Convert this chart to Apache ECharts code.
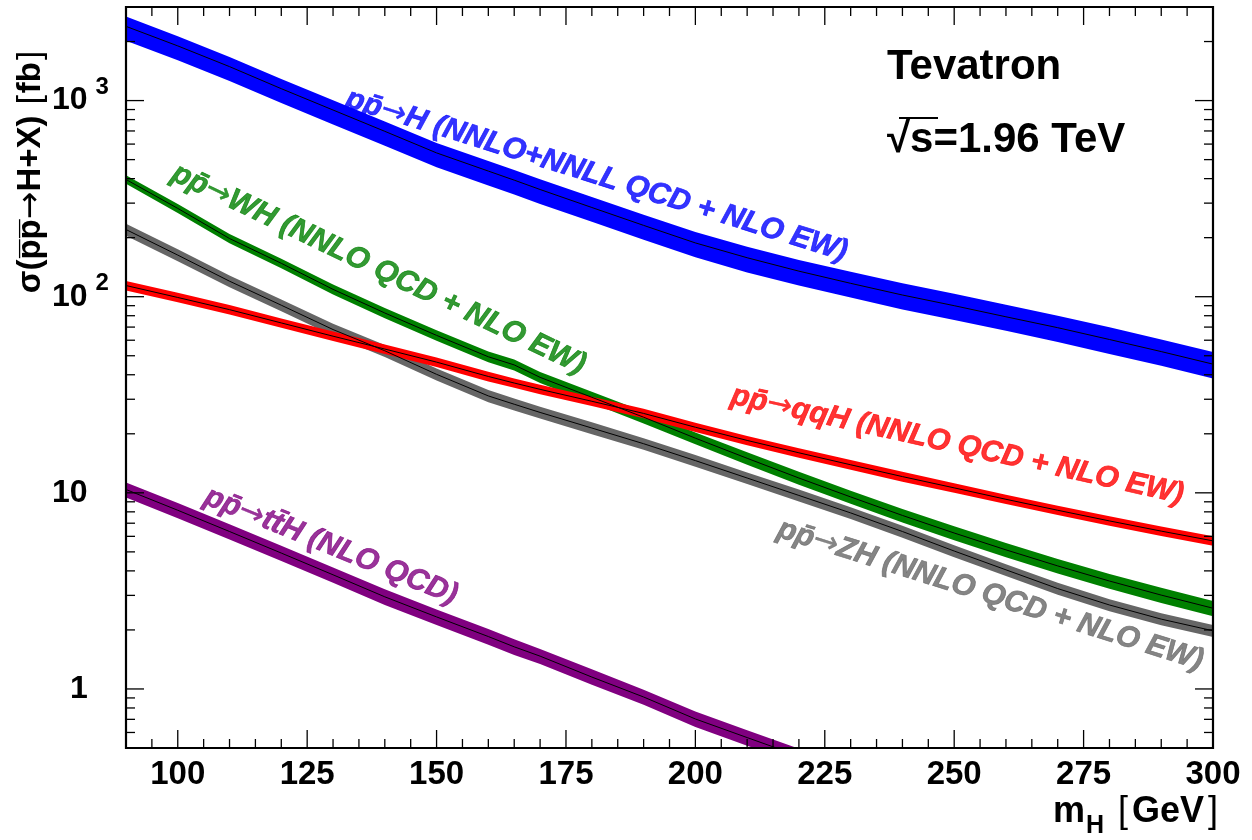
<!DOCTYPE html>
<html>
<head>
<meta charset="utf-8">
<script src="https://cdn.jsdelivr.net/npm/echarts@6/dist/echarts.min.js"></script>
<style>
html,body{margin:0;padding:0;background:#fff;}
#chart{width:1252px;height:840px;}
</style>
</head>
<body>
<div id="chart"></div>
<script>
// ---------------- data ----------------
const massPoints = [90,100,110,120,130,140,150,160,165,170,180,190,200,210,220,230,240,250,260,270,280,290,300];

const ggH     = [2390,1900,1490,1150,895,697,541,437,393,352,285,231,188,158,135,117,102,90,79,69.5,60.5,52.5,45.3];
const ggHUp   = [2680,2130,1670,1290,1005,782,608,492,443,397,322,262,214,180,154,134,117,103.5,91,80,69.8,60.5,52.3];
const ggHDown = [2020,1605,1260,972,756,589,457,369,332,297,241,195,159,133,114,99,86,76,67,58.7,51.1,44.4,38.3];

const wh     = [396,282,198,148,109,82.6,63.5,49.4,44.9,38.8,30.7,24.3,19.0,15.0,11.9,9.53,7.67,6.24,5.12,4.24,3.55,3.01,2.58];
const whUp   = [415.8,296.7,208.7,156.3,115.3,87.6,67.4,52.5,47.8,41.3,32.8,26.0,20.3,16.1,12.8,10.26,8.28,6.75,5.55,4.60,3.86,3.28,2.81];
const whDown = [376.2,267.3,187.3,139.7,102.7,77.6,59.6,46.3,42.0,36.3,28.6,22.6,17.7,13.9,11.0,8.80,7.06,5.73,4.70,3.88,3.24,2.74,2.35];

const zh     = [220,163,120,90.5,68.0,53.0,40.2,31.2,28.3,25.7,21.4,17.8,14.6,11.9,9.7,7.9,6.35,5.05,4.05,3.25,2.68,2.27,1.98];
const zhUp   = [235.4,174.4,128.4,96.8,72.8,56.7,43.0,33.4,30.3,27.5,22.9,19.0,15.6,12.7,10.4,8.45,6.79,5.40,4.33,3.48,2.87,2.43,2.12];
const zhDown = [204.6,151.6,111.6,84.2,63.2,49.3,37.4,29.0,26.3,23.9,19.9,16.6,13.6,11.1,9.02,7.35,5.91,4.70,3.77,3.02,2.49,2.11,1.84];

const qqH     = [114,99.1,85.9,73.5,62.9,54.1,46.4,39.2,36.3,33.7,29.3,25.4,21.6,18.5,16.0,13.9,12.1,10.6,9.27,8.15,7.19,6.38,5.69];
const qqHUp   = [120.3,104.6,90.6,77.5,66.4,57.1,49.0,41.4,38.3,35.6,30.9,26.8,22.8,19.5,16.9,14.7,12.8,11.2,9.78,8.60,7.59,6.73,6.00];
const qqHDown = [107.7,93.6,81.2,69.5,59.4,51.1,43.8,37.0,34.3,31.8,27.7,24.0,20.4,17.5,15.1,13.1,11.4,10.0,8.76,7.70,6.79,6.03,5.38];

const ttHMass = [90,100,110,120,130,140,150,160,165,170,180,190,200,210,220,230];
const ttH     = [10.4,8.15,6.35,4.93,3.82,2.95,2.33,1.85,1.64,1.47,1.15,0.91,0.703,0.565,0.455,0.37];
const ttHUp   = [11.3,8.88,6.92,5.37,4.16,3.22,2.54,2.02,1.79,1.60,1.26,0.99,0.767,0.616,0.496,0.403];
const ttHDown = [9.46,7.42,5.78,4.49,3.48,2.68,2.12,1.68,1.49,1.34,1.05,0.83,0.640,0.514,0.414,0.337];

const xMajorTicks = [100,125,150,175,200,225,250,275,300];
const xMinorTicks = [95,105,110,115,120,130,135,140,145,155,160,165,170,180,185,190,195,205,210,215,220,230,235,240,245,255,260,265,270,280,285,290,295];
const yMajorTicks = [1,10,100,1000];
const yMinorTicks = [0.6,0.7,0.8,0.9,2,3,4,5,6,7,8,9,20,30,40,50,60,70,80,90,200,300,400,500,600,700,800,900,2000];

// text of each curve label: [before arrow, after arrow]
const curveLabels = [
  {pre:'pp\u0304', post:'H (NNLO+NNLL QCD + NLO EW)', m:180.9, v:415,  rot:-17.2, color:'#0000ff'},
  {pre:'pp\u0304', post:'WH (NNLO QCD + NLO EW)',     m:138.8, v:138,  rot:-25.4, color:'#008000'},
  {pre:'pp\u0304', post:'qqH (NNLO QCD + NLO EW)',    m:250.6, v:17.5, rot:-12.5, color:'#ff0000'},
  {pre:'pp\u0304', post:'ZH (NNLO QCD + NLO EW)',     m:257.0, v:3.01, rot:-17.5, color:'#666666'},
  {pre:'pp\u0304', post:'tt\u0304H (NLO QCD)',        m:129.6, v:5.35, rot:-22.0, color:'#800080'}
];

// ---------------- chart ----------------
const FONT = '"Liberation Sans", Arial, Helvetica, sans-serif';
const ARROWFONT = '"DejaVu Sans", sans-serif';

function bandSeries(xs, lo, hi, color) {
  return {
    type: 'custom', silent: true, clip: true,
    data: xs.map((x, i) => [x, lo[i], hi[i]]),
    encode: {x: 0, y: [1, 2]},
    renderItem(params, api) {
      if (params.dataIndex !== 0) return null;
      const pts = [];
      for (let i = 0; i < xs.length; i++) pts.push(api.coord([xs[i], hi[i]]));
      for (let i = xs.length - 1; i >= 0; i--) pts.push(api.coord([xs[i], lo[i]]));
      return {type: 'polygon', shape: {points: pts}, style: {fill: color}};
    }
  };
}
function centerLine(xs, c) {
  return {
    type: 'line', silent: true, clip: true, symbol: 'none',
    data: xs.map((x, i) => [x, c[i]]),
    lineStyle: {color: '#000', width: 1}
  };
}

const series = [
  bandSeries(massPoints, ggHDown, ggHUp, '#0000ff'), centerLine(massPoints, ggH),
  bandSeries(massPoints, whDown, whUp, '#008000'),   centerLine(massPoints, wh),
  bandSeries(massPoints, zhDown, zhUp, '#666666'),   centerLine(massPoints, zh),
  bandSeries(massPoints, qqHDown, qqHUp, '#ff0000'), centerLine(massPoints, qqH),
  bandSeries(ttHMass, ttHDown, ttHUp, '#800080'),    centerLine(ttHMass, ttH)
];

curveLabels.forEach(l => {
  series.push({
    type: 'scatter', silent: true, z: 6, symbolSize: 1,
    itemStyle: {color: 'rgba(0,0,0,0)'},
    data: [[l.m, l.v]],
    label: {
      show: true, position: 'inside', rotate: l.rot,
      formatter: '{t|' + l.pre + '}{a|\u2192}{t|' + l.post + '}',
      align: 'center', verticalAlign: 'middle',
      rich: {
        t: {color: l.color, fontSize: 30, fontWeight: 'bold', fontStyle: 'italic', fontFamily: FONT,
            textBorderColor: l.color, textBorderWidth: 0.7},
        a: {color: l.color, fontSize: 30, fontWeight: 'normal', fontStyle: 'normal', fontFamily: ARROWFONT,
            textBorderColor: l.color, textBorderWidth: 0.4}
      }
    }
  });
});

// frame + ticks
series.push({
  type: 'custom', silent: true, clip: false, z: 10,
  data: [[200, 10]],
  renderItem(params, api) {
    const cs = params.coordSys;
    const L = cs.x, R = cs.x + cs.width, T = cs.y, B = cs.y + cs.height;
    const ch = [];
    const seg = (x1, y1, x2, y2) => ch.push({type: 'line', shape: {x1, y1, x2, y2}, style: {stroke: '#000', lineWidth: 1.3}});
    xMajorTicks.forEach(v => { const x = api.coord([v, 10])[0]; seg(x, B, x, B - 18); seg(x, T, x, T + 18); });
    xMinorTicks.forEach(v => { const x = api.coord([v, 10])[0]; seg(x, B, x, B - 9); seg(x, T, x, T + 9); });
    yMajorTicks.forEach(v => { const y = api.coord([200, v])[1]; seg(L, y, L + 18, y); seg(R, y, R - 18, y); });
    yMinorTicks.forEach(v => { const y = api.coord([200, v])[1]; seg(L, y, L + 9, y); seg(R, y, R - 9, y); });
    ch.push({type: 'rect', shape: {x: L, y: T, width: R - L, height: B - T}, style: {fill: null, stroke: '#000', lineWidth: 2.2}});
    return {type: 'group', children: ch};
  }
});

const chart = echarts.init(document.getElementById('chart'), null, {renderer: 'canvas'});
chart.setOption({
  animation: false,
  backgroundColor: '#fff',
  grid: {left: 126, right: 39, top: 7, bottom: 92, show: false, containLabel: false, outerBoundsMode: 'none'},
  xAxis: {
    type: 'value', min: 90, max: 300, interval: 5,
    axisLine: {show: false}, axisTick: {show: false}, splitLine: {show: false},
    axisLabel: {
      margin: 10, color: '#000', fontSize: 33, fontWeight: 'bold', fontFamily: FONT,
      formatter: v => (Math.round(v) % 25 === 0 ? String(Math.round(v)) : '')
    }
  },
  yAxis: {
    type: 'log', logBase: 10, min: 0.5, max: 3000,
    axisLine: {show: false}, axisTick: {show: false}, splitLine: {show: false}, minorTick: {show: false},
    axisLabel: {
      margin: 74, showMinLabel: false, showMaxLabel: false, align: 'left',
      formatter: v => {
        const lg = Math.log10(v), e = Math.round(lg);
        if (Math.abs(lg - e) > 1e-6) return '';
        if (e === 0) return '{one|1}';
        if (e === 1) return '{b|10}';
        return '{b|10}{s|' + e + '}';
      },
      rich: {
        b: {fontSize: 32, fontWeight: 'bold', fontFamily: FONT, color: '#000', verticalAlign: 'middle'},
        one: {fontSize: 32, fontWeight: 'bold', fontFamily: FONT, color: '#000', verticalAlign: 'middle', padding: [0, 0, 0, 18]},
        s: {fontSize: 24, fontWeight: 'bold', fontFamily: FONT, color: '#000', verticalAlign: 'middle', padding: [0, 0, 26, 8]}
      }
    }
  },
  graphic: [
    {type: 'text', x: 887, y: 67, style: {text: 'Tevatron', fontSize: 42, fontWeight: 'bold', fontFamily: FONT, fill: '#000', align: 'left', verticalAlign: 'middle'}},
    {type: 'text', x: 887, y: 140, style: {text: '\u221As=1.96 TeV', fontSize: 42, fontWeight: 'bold', fontFamily: FONT, fill: '#000', align: 'left', verticalAlign: 'middle'}},
    {type: 'line', shape: {x1: 899, y1: 118, x2: 938, y2: 118}, style: {stroke: '#000', lineWidth: 2}},
    {type: 'text', x: 31, y: 171, rotation: Math.PI / 2, style: {
      text: '{t|\u03C3(p\u0305p\u0305}{a|\u2192}{t|H+X) }{br|[}{t|fb}{br|]}',
      align: 'center', verticalAlign: 'middle',
      rich: {
        t: {fontSize: 33, fontWeight: 'bold', fontFamily: FONT, fill: '#000'},
        a: {fontSize: 33, fontWeight: 'normal', fontFamily: ARROWFONT, fill: '#000'},
        br: {fontSize: 33, fontWeight: 'normal', fontFamily: FONT, fill: '#000', padding: [0, 2, 0, 2]}
      }
    }},
    {type: 'text', x: 1222, y: 812, style: {
      text: '{m|m}{h|H}{m|\u00a0}{br|[}{m|GeV}{br|]}',
      align: 'right', verticalAlign: 'middle',
      rich: {
        m: {fontSize: 36, fontWeight: 'bold', fontFamily: FONT, fill: '#000', verticalAlign: 'middle'},
        h: {fontSize: 25, fontWeight: 'bold', fontFamily: FONT, fill: '#000', verticalAlign: 'middle', padding: [28, 0, 0, 1]},
        br: {fontSize: 36, fontWeight: 'normal', fontFamily: FONT, fill: '#000', verticalAlign: 'middle', padding: [0, 4, 0, 4]}
      }
    }}
  ],
  series: series
});
</script>
</body>
</html>
